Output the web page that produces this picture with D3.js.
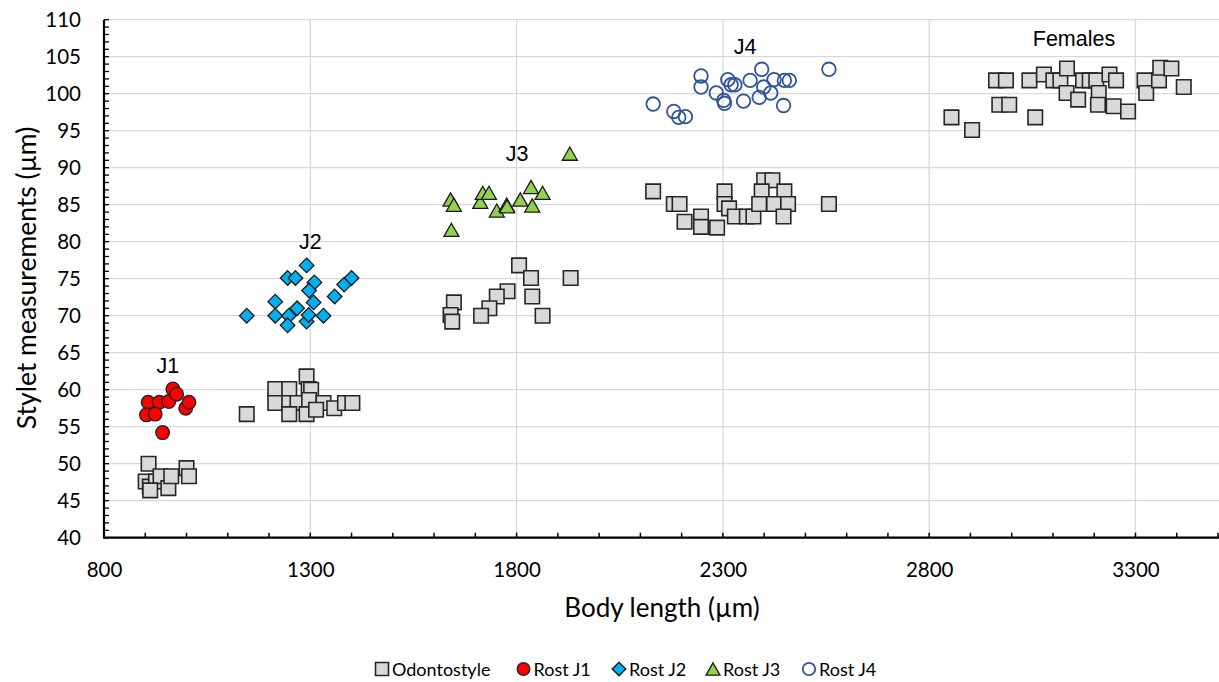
<!DOCTYPE html>
<html><head><meta charset="utf-8">
<script src="https://cdn.jsdelivr.net/npm/d3@7"></script>
<style>body{margin:0;background:#fff}svg{display:block}</style>
</head><body>
<script>
const xTicks = [800,1300,1800,2300,2800,3300];
const yTicks = [40,45,50,55,60,65,70,75,80,85,90,95,100,105,110];
const seriesNames = ["Odontostyle","Rost J1","Rost J2","Rost J3","Rost J4"];
const odontostyle = [
 [908,50.0],[901,47.6],[911,46.9],[926,47.6],[937,48.3],[956,46.7],[963,48.3],[1000,49.4],[1006,48.3],[912,46.4],
 [1146,56.7],[1291,61.8],[1215,60.1],[1249,60.1],[1296,60.1],[1302,60.0],[1215,58.2],[1249,58.2],[1269,58.2],[1297,58.6],
 [1332,58.2],[1358,57.5],[1384,58.2],[1402,58.2],[1249,56.7],[1291,56.7],[1314,57.3],
 [1806,76.8],[1835,75.1],[1931,75.1],[1778,73.3],[1752,72.6],[1838,72.6],[1734,71.0],[1714,70.0],[1863,70.0],[1648,71.8],[1640,70.1],[1644,69.2],
 [2131,86.8],[2181,85.1],[2195,85.1],[2207,82.7],[2247,83.4],[2247,82.0],[2286,81.9],[2304,86.8],[2304,85.1],[2315,84.5],[2329,83.4],[2358,83.4],[2374,83.4],
 [2400,88.3],[2420,88.3],[2394,86.8],[2449,86.8],[2388,85.1],[2424,85.1],[2458,85.1],[2447,83.4],[2557,85.1],
 [2854,96.8],[2904,95.1],[2962,101.8],[2986,101.8],[2970,98.5],[2994,98.5],[3043,101.8],[3057,96.8],[3078,102.6],[3101,101.8],
 [3118,101.8],[3134,103.4],[3133,100.1],[3161,99.2],[3173,101.8],[3189,101.8],[3205,101.8],[3211,100.1],[3209,98.5],[3237,102.6],
 [3253,101.8],[3247,98.3],[3282,97.6],[3322,101.8],[3326,100.1],[3357,101.8],[3360,103.5],[3387,103.4],[3417,100.9]
];
const rostJ1 = [[907,58.3],[934,58.3],[903,56.6],[924,56.7],[957,58.4],[967,60.1],[976,59.4],[998,57.5],[1006,58.3],[942,54.2]];
const rostJ2 = [[1146,70.0],[1215,71.9],[1215,70.0],[1245,75.1],[1264,75.1],[1291,76.8],[1310,74.5],[1297,73.4],[1308,71.8],[1268,71.0],
 [1248,70.0],[1245,68.7],[1291,69.2],[1296,70.1],[1332,70.0],[1359,72.6],[1382,74.2],[1400,75.1]];
const rostJ3 = [[1929,91.9],[1640,85.7],[1648,85.0],[1642,81.6],[1712,85.4],[1718,86.6],[1733,86.6],[1752,84.2],[1776,85.0],[1777,84.8],
 [1809,85.7],[1835,87.4],[1863,86.6],[1838,84.9]];
const rostJ4 = [[2131,98.6],[2181,97.6],[2193,96.8],[2209,96.9],[2247,102.4],[2247,100.9],[2284,100.1],[2302,99.1],[2304,98.7],[2312,101.9],
 [2320,101.2],[2329,101.2],[2350,99.0],[2366,101.8],[2394,103.3],[2388,99.5],[2399,100.9],[2416,100.1],[2424,101.9],[2447,98.4],
 [2449,101.8],[2461,101.8],[2557,103.3]];
const groupLabels = [["J1",955,63.3],["J2",1300,80.0],["J3",1801,91.9],["J4",2354,106.4],["Females",3151,107.4]];

const W=1219,H=682;
const svg=d3.select("body").append("svg").attr("width",W).attr("height",H);
const x=d3.scaleLinear().domain([800,3500]).range([104,1218]);
const y=d3.scaleLinear().domain([40,110]).range([537.7,19.7]);
const font="Lato, 'Open Sans', sans-serif";

// gridlines
const g=svg.append("g");
g.selectAll(".hg").data(yTicks.slice(1)).join("line")
 .attr("x1",x(800)).attr("x2",1219).attr("y1",d=>y(d)).attr("y2",d=>y(d))
 .attr("stroke","#d9d9d9").attr("stroke-width",1.3);
g.selectAll(".vg").data(xTicks.slice(1)).join("line")
 .attr("y1",y(40)).attr("y2",y(110)).attr("x1",d=>x(d)).attr("x2",d=>x(d))
 .attr("stroke","#d9d9d9").attr("stroke-width",1.3);

// axes
const xMinor=d3.range(800,3501,100);
const yMinor=d3.range(40,110.1,1);
const xa=d3.axisBottom(x).tickValues(xTicks).tickFormat(d3.format("d")).tickSize(0).tickPadding(24.5);
const xg=svg.append("g").attr("transform",`translate(0,${y(40)})`).call(xa);
xg.select(".domain").remove();
xg.selectAll("text").attr("font-family",font).attr("font-size",20.5).attr("fill","#000");
const ya=d3.axisLeft(y).tickValues(yTicks).tickFormat(d3.format("d")).tickSize(0).tickPadding(23);
const yg=svg.append("g").attr("transform",`translate(${x(800)},0)`).call(ya);
yg.select(".domain").remove();
yg.selectAll("text").attr("font-family",font).attr("font-size",20.5).attr("fill","#000");

svg.append("g").selectAll("line").data(xMinor).join("line")
 .attr("x1",d=>x(d)).attr("x2",d=>x(d)).attr("y1",y(40)).attr("y2",y(40)-5)
 .attr("stroke","#000").attr("stroke-width",1.5);
svg.append("g").selectAll("line").data(yMinor).join("line")
 .attr("y1",d=>y(d)).attr("y2",d=>y(d)).attr("x1",x(800)).attr("x2",x(800)+5)
 .attr("stroke","#000").attr("stroke-width",1.3);
svg.append("line").attr("x1",x(800)).attr("x2",1219).attr("y1",y(40)).attr("y2",y(40)).attr("stroke","#000").attr("stroke-width",2.2);
svg.append("line").attr("x1",x(800)).attr("x2",x(800)).attr("y1",y(40)+1).attr("y2",y(110)).attr("stroke","#000").attr("stroke-width",2.2);

// titles
svg.append("text").attr("x",662).attr("y",617).attr("text-anchor","middle")
 .attr("font-family",font).attr("font-size",26).text("Body length (µm)");
svg.append("text").attr("transform","translate(36,278) rotate(-90)").attr("text-anchor","middle")
 .attr("font-family",font).attr("font-size",26.5).text("Stylet measurements (µm)");

// symbols (custom shapes)
const sqP=s=>`M${-s/2},${-s/2}H${s/2}V${s/2}H${-s/2}Z`;
const ciP=r=>`M${r},0A${r},${r} 0 1,1 ${-r},0A${r},${r} 0 1,1 ${r},0Z`;
const diP=r=>`M0,${-r}L${r},0L0,${r}L${-r},0Z`;
const trP=s=>{const h=s*0.88;return `M0,${-h/2}L${s/2},${h/2}L${-s/2},${h/2}Z`;};
const styles=[
 {data:odontostyle,path:sqP(14.5),lpath:sqP(13),fill:"#d9d9d9",stroke:"#262626",sw:1.6},
 {data:rostJ1,path:ciP(6.8),lpath:ciP(6.3),fill:"#ff0000",stroke:"#262626",sw:1.4},
 {data:rostJ2,path:diP(7.3),lpath:diP(6.8),fill:"#00b0f0",stroke:"#1a1a1a",sw:1.3},
 {data:rostJ3,path:trP(15),lpath:trP(14),fill:"#92d050",stroke:"#1a1a1a",sw:1.3},
 {data:rostJ4,path:ciP(6.8),lpath:ciP(6.2),fill:"none",stroke:"#2f5597",sw:1.8}
];
styles.forEach(s=>{
 svg.append("g").selectAll("path").data(s.data).join("path")
  .attr("d",s.path).attr("transform",d=>`translate(${x(d[0])},${y(d[1])})`)
  .attr("fill",s.fill).attr("stroke",s.stroke).attr("stroke-width",s.sw);
});

// group labels
svg.append("g").selectAll("text").data(groupLabels).join("text")
 .attr("x",d=>x(d[1])).attr("y",d=>y(d[2])+7.5).attr("text-anchor","middle")
 .attr("font-family","'Liberation Sans', Arial, sans-serif").attr("font-size",21.5).text(d=>d[0]);

// legend
const legX=[382,523.5,619,713,809];
const lg=svg.append("g");
seriesNames.forEach((n,i)=>{
 const s=styles[i];
 lg.append("path").attr("d",s.lpath).attr("transform",`translate(${legX[i]},669)`)
  .attr("fill",s.fill).attr("stroke",s.stroke).attr("stroke-width",s.sw);
 lg.append("text").attr("x",legX[i]+10).attr("y",675.5).attr("font-family",font).attr("font-size",18).text(n);
});
</script>
</body></html>
